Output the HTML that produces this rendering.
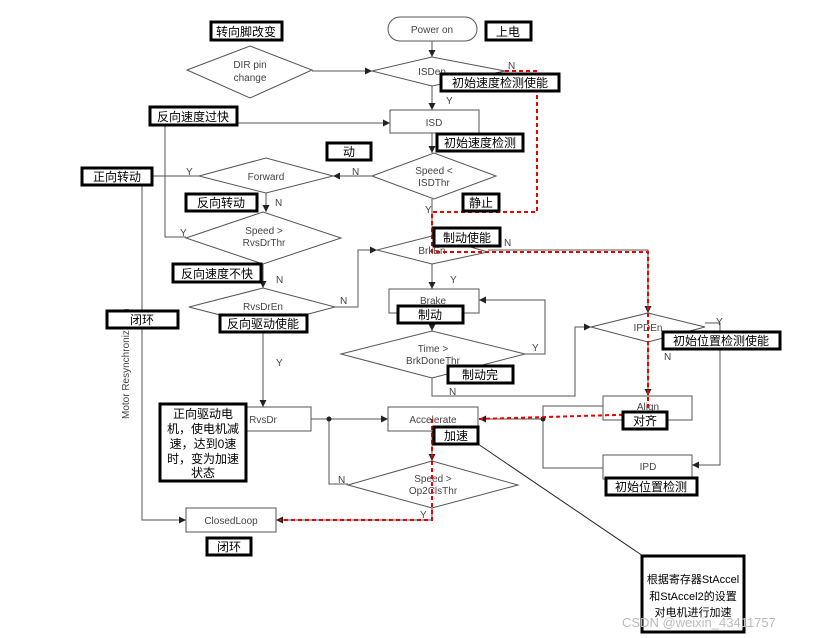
<!DOCTYPE html>
<html><head><meta charset="utf-8"><style>
html,body{margin:0;padding:0;background:#fff;}
svg{display:block;}
.n{font-family:"Liberation Sans",Arial,sans-serif;font-size:10px;fill:#444;}
.c{font-family:"Liberation Sans","Noto Sans CJK SC",sans-serif;font-size:12px;fill:#000;}
.l{stroke:#555;stroke-width:1;fill:none;}
.s{stroke:#555;stroke-width:1;fill:#fff;}
.b{stroke:#000;stroke-width:3;fill:#fff;}
.r{stroke:#e00;stroke-width:2;stroke-dasharray:4,3;fill:none;}
</style></head><body>
<svg width="818" height="638" viewBox="0 0 818 638" xmlns="http://www.w3.org/2000/svg">
<defs>
<marker id="a" markerWidth="8" markerHeight="8" refX="7" refY="4" orient="auto" markerUnits="userSpaceOnUse"><path d="M0,0.5 L7,4 L0,7.5z" fill="#222"/></marker>
<clipPath id="cp"><rect x="110" y="300" width="30" height="130"/></clipPath>
</defs>
<!-- connectors -->
<g class="l">
<path d="M432,41 V57" marker-end="url(#a)"/>
<path d="M312,71 H372" marker-end="url(#a)"/>
<path d="M432,86 V110" marker-end="url(#a)"/>
<path d="M237,123 H390" marker-end="url(#a)"/>
<path d="M165,125 V237 H186"/>
<path d="M432,133 V153" marker-end="url(#a)"/>
<path d="M372,176 H333" marker-end="url(#a)"/>
<path d="M199,176 H152"/>
<path d="M142,185 V520 H186" marker-end="url(#a)"/>
<path d="M266,193 V212" marker-end="url(#a)"/>
<path d="M263,264 V288" marker-end="url(#a)"/>
<path d="M335,307 H358 V250 H377" marker-end="url(#a)"/>
<path d="M263,332 V407" marker-end="url(#a)"/>
<path d="M311,419 H388" marker-end="url(#a)"/>
<path d="M329,419 V484 H348"/>
<path d="M432,199 V236"/>
<path d="M432,264 V289" marker-end="url(#a)"/>
<path d="M432,313 V331" marker-end="url(#a)"/>
<path d="M525,354 H545 V300 H479" marker-end="url(#a)"/>
<path d="M432,378 V396 H575 V327 H591" marker-end="url(#a)"/>
<path d="M488,250 H648 V313" marker-end="url(#a)"/>
<path d="M705,323 H720 V465 H692" marker-end="url(#a)"/>
<path d="M648,342 V396" marker-end="url(#a)"/>
<path d="M603,406 H543 V468 H603"/>
<path d="M543,419 H479" marker-end="url(#a)"/>
<path d="M432,431 V461" marker-end="url(#a)"/>
<path d="M432,508 V520 H276" marker-end="url(#a)"/>
<path d="M478,444 L643,556" style="stroke:#222"/>
</g>
<circle cx="329" cy="419" r="2.5" fill="#222"/>
<circle cx="543" cy="419" r="2.5" fill="#222"/>
<!-- nodes -->
<rect x="388" y="17" width="89" height="24" rx="12" class="s"/>
<text x="432" y="33" class="n" text-anchor="middle">Power on</text>
<polygon points="187,70 250,46 312,70 250,98" class="s"/>
<text x="250" y="68" class="n" text-anchor="middle">DIR pin</text>
<text x="250" y="81" class="n" text-anchor="middle">change</text>
<polygon points="372,71 432,57 505,71 432,86" class="s"/>
<text x="432" y="75" class="n" text-anchor="middle">ISDen</text>
<rect x="390" y="110" width="89" height="23" class="s"/>
<text x="434" y="126" class="n" text-anchor="middle">ISD</text>
<polygon points="372,176 434,153 496,176 434,199" class="s"/>
<text x="434" y="174" class="n" text-anchor="middle">Speed &lt;</text>
<text x="434" y="186" class="n" text-anchor="middle">ISDThr</text>
<polygon points="199,176 266,158 333,176 266,193" class="s"/>
<text x="266" y="180" class="n" text-anchor="middle">Forward</text>
<polygon points="186,238 263,212 341,238 263,264" class="s"/>
<text x="264" y="234" class="n" text-anchor="middle">Speed &gt;</text>
<text x="264" y="246" class="n" text-anchor="middle">RvsDrThr</text>
<polygon points="189,307 263,288 335,307 263,326" class="s"/>
<text x="263" y="310" class="n" text-anchor="middle">RvsDrEn</text>
<rect x="240" y="407" width="71" height="24" class="s"/>
<text x="263" y="423" class="n" text-anchor="middle">RvsDr</text>
<rect x="388" y="407" width="90" height="24" class="s"/>
<text x="433" y="423" class="n" text-anchor="middle">Accelerate</text>
<polygon points="348,485 432,461 518,485 432,508" class="s"/>
<text x="433" y="482" class="n" text-anchor="middle">Speed &gt;</text>
<text x="433" y="494" class="n" text-anchor="middle">Op2ClsThr</text>
<rect x="186" y="508" width="90" height="24" class="s"/>
<text x="231" y="524" class="n" text-anchor="middle">ClosedLoop</text>
<polygon points="377,250 432,236 488,252 432,264" class="s"/>
<text x="432" y="254" class="n" text-anchor="middle">BrkEn</text>
<rect x="389" y="289" width="90" height="24" class="s"/>
<text x="433" y="304" class="n" text-anchor="middle">Brake</text>
<polygon points="341,354 432,331 525,354 432,378" class="s"/>
<text x="433" y="352" class="n" text-anchor="middle">Time &gt;</text>
<text x="433" y="364" class="n" text-anchor="middle">BrkDoneThr</text>
<polygon points="591,327 648,313 705,327 648,342" class="s"/>
<text x="648" y="331" class="n" text-anchor="middle">IPDEn</text>
<rect x="603" y="396" width="89" height="24" class="s"/>
<text x="648" y="410" class="n" text-anchor="middle">Align</text>
<rect x="603" y="455" width="89" height="24" class="s"/>
<text x="648" y="470" class="n" text-anchor="middle">IPD</text>
<g clip-path="url(#cp)"><text transform="translate(129,419) rotate(-90)" class="n">Motor Resynchronization</text></g>
<!-- Y/N labels -->
<g class="n">
<text x="508" y="69">N</text><text x="446" y="104">Y</text>
<text x="352" y="175">N</text><text x="186" y="175">Y</text>
<text x="425" y="213">Y</text><text x="275" y="206">N</text>
<text x="180" y="236">Y</text><text x="276" y="283">N</text>
<text x="340" y="304">N</text><text x="276" y="366">Y</text>
<text x="504" y="246">N</text><text x="450" y="283">Y</text>
<text x="532" y="351">Y</text><text x="449" y="395">N</text>
<text x="716" y="325">Y</text><text x="664" y="360">N</text>
<text x="338" y="483">N</text><text x="420" y="518">Y</text>
</g>
<!-- red dashed -->
<path class="r" d="M505,71 H537 V212 H432 V252 H648 V414 L479,419"/>
<path class="r" d="M432,419 V520 H280"/>
<!-- label boxes -->
<g>
<rect x="211" y="22" width="71" height="18" class="b"/><text x="246" y="36" class="c" text-anchor="middle">转向脚改变</text>
<rect x="486" y="22" width="45" height="18" class="b"/><text x="508" y="36" class="c" text-anchor="middle">上电</text>
<rect x="441" y="74" width="118" height="17" class="b"/><text x="500" y="87" class="c" text-anchor="middle">初始速度检测使能</text>
<rect x="150" y="107" width="87" height="18" class="b"/><text x="193" y="121" class="c" text-anchor="middle">反向速度过快</text>
<rect x="437" y="134" width="86" height="17" class="b"/><text x="480" y="147" class="c" text-anchor="middle">初始速度检测</text>
<rect x="327" y="143" width="44" height="17" class="b"/><text x="349" y="156" class="c" text-anchor="middle">动</text>
<rect x="82" y="168" width="70" height="17" class="b"/><text x="117" y="181" class="c" text-anchor="middle">正向转动</text>
<rect x="186" y="194" width="71" height="17" class="b"/><text x="221" y="207" class="c" text-anchor="middle">反向转动</text>
<rect x="463" y="194" width="36" height="17" class="b"/><text x="481" y="207" class="c" text-anchor="middle">静止</text>
<rect x="434" y="228" width="66" height="18" class="b"/><text x="467" y="242" class="c" text-anchor="middle">制动使能</text>
<rect x="173" y="264" width="88" height="18" class="b"/><text x="217" y="278" class="c" text-anchor="middle">反向速度不快</text>
<rect x="398" y="306" width="65" height="17" class="b"/><text x="430" y="319" class="c" text-anchor="middle">制动</text>
<rect x="107" y="311" width="71" height="17" class="b"/><text x="142" y="324" class="c" text-anchor="middle">闭环</text>
<rect x="220" y="315" width="87" height="17" class="b"/><text x="263" y="328" class="c" text-anchor="middle">反向驱动使能</text>
<rect x="663" y="332" width="117" height="17" class="b"/><text x="721" y="345" class="c" text-anchor="middle">初始位置检测使能</text>
<rect x="448" y="366" width="65" height="17" class="b"/><text x="480" y="379" class="c" text-anchor="middle">制动完</text>
<rect x="160" y="404" width="86" height="77" class="b"/>
<text class="c" text-anchor="middle"><tspan x="203" y="418">正向驱动电</tspan><tspan x="203" y="433">机，使电机减</tspan><tspan x="203" y="448">速，达到0速</tspan><tspan x="203" y="463">时，变为加速</tspan><tspan x="203" y="477">状态</tspan></text>
<rect x="623" y="412" width="44" height="17" class="b"/><text x="645" y="425" class="c" text-anchor="middle">对齐</text>
<rect x="434" y="427" width="44" height="17" class="b"/><text x="456" y="440" class="c" text-anchor="middle">加速</text>
<rect x="606" y="478" width="91" height="17" class="b"/><text x="651" y="491" class="c" text-anchor="middle">初始位置检测</text>
<rect x="207" y="538" width="44" height="17" class="b"/><text x="229" y="551" class="c" text-anchor="middle">闭环</text>
<rect x="642" y="556" width="102" height="76" class="b"/>
<text class="c" text-anchor="middle" style="font-size:11px"><tspan x="693" y="583">根据寄存器StAccel</tspan><tspan x="693" y="600">和StAccel2的设置</tspan><tspan x="693" y="616">对电机进行加速</tspan></text>
</g>
<text x="622" y="627" style="font-family:'Liberation Sans',sans-serif;font-size:13px;fill:#bbb;">CSDN @weixin_43411757</text>
</svg>
</body></html>
